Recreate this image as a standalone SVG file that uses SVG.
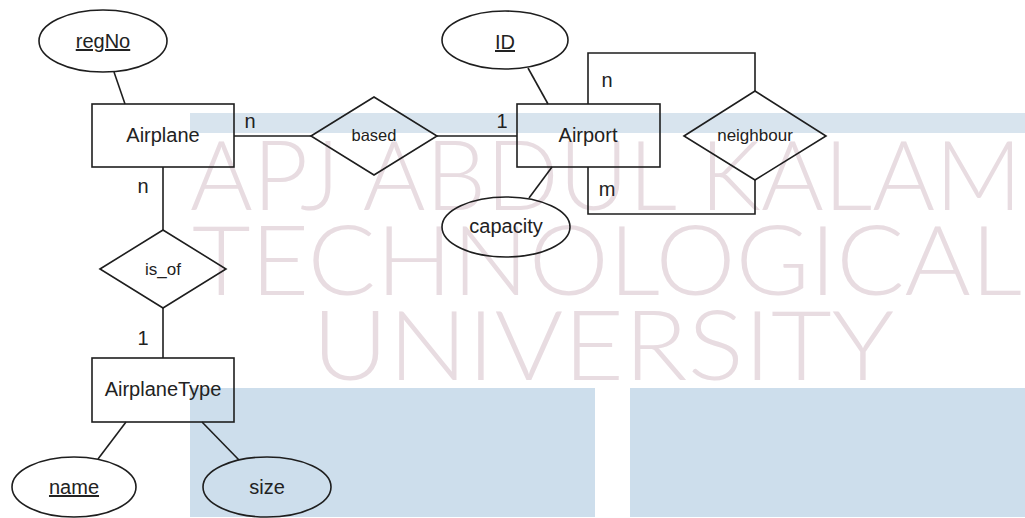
<svg xmlns="http://www.w3.org/2000/svg" width="1025" height="518" viewBox="0 0 1025 518">
<style>
.shape{fill:none;stroke:#1e1e1e;stroke-width:1.6}
.conn line,.conn polyline{fill:none;stroke:#1e1e1e;stroke-width:1.6}
.t{font-family:"Liberation Sans",Arial,sans-serif;font-size:20px;fill:#222;text-anchor:middle}
.r{font-size:16.5px}
.u{text-decoration:underline}
.wm{font-family:Lato,"Open Sans",sans-serif;font-weight:300;font-size:96px;fill:#e8dce1}
</style>
<rect width="1025" height="518" fill="#ffffff"/>
<g id="background">
<rect x="190" y="113" width="835" height="20" fill="#d8e4ee"/>
<rect x="190" y="388" width="405" height="129" fill="#cddeec"/>
<rect x="630" y="388" width="395" height="129" fill="#cddeec"/>
</g>
<g id="watermark">
<text class="wm" x="190" y="210" textLength="832" lengthAdjust="spacingAndGlyphs">APJ ABDUL KALAM</text>
<text class="wm" x="192" y="295" textLength="830" lengthAdjust="spacingAndGlyphs">TECHNOLOGICAL</text>
<text class="wm" x="312" y="380" textLength="582" lengthAdjust="spacingAndGlyphs">UNIVERSITY</text>
</g>
<g id="connectors" class="conn">
<line x1="114" y1="72" x2="125" y2="104"/>
<line x1="234" y1="136" x2="311" y2="136"/>
<line x1="437" y1="136" x2="517" y2="136"/>
<line x1="528" y1="68" x2="548" y2="104"/>
<line x1="552" y1="167" x2="529" y2="198"/>
<polyline points="588,104 588,53 755,53 755,91"/>
<polyline points="755,180 755,214 588,214 588,167"/>
<line x1="163" y1="167" x2="163" y2="230"/>
<line x1="163" y1="308" x2="163" y2="358"/>
<line x1="126" y1="422" x2="98" y2="459"/>
<line x1="202" y1="422" x2="239" y2="460"/>
<text class="t" x="250" y="128">n</text>
<text class="t" x="143" y="193">n</text>
<text class="t" x="502" y="128">1</text>
<text class="t" x="143" y="345">1</text>
<text class="t" x="607" y="87">n</text>
<text class="t" x="607" y="196">m</text>
</g>
<g id="regNo"><ellipse class="shape" cx="103" cy="41" rx="64" ry="31"/><text class="t u" x="103" y="48">regNo</text></g>
<g id="Airplane"><rect class="shape" x="92" y="104" width="142" height="63"/><text class="t" x="163" y="142">Airplane</text></g>
<g id="based"><polygon class="shape" points="311,136 374,97 437,136 374,175"/><text class="t r" x="374" y="141">based</text></g>
<g id="Airport"><rect class="shape" x="517" y="104" width="143" height="63"/><text class="t" x="588" y="142">Airport</text></g>
<g id="ID"><ellipse class="shape" cx="505" cy="40" rx="63" ry="29"/><text class="t u" x="505" y="49">ID</text></g>
<g id="capacity"><ellipse class="shape" cx="506" cy="227" rx="64" ry="30"/><text class="t" x="506" y="233">capacity</text></g>
<g id="neighbour"><polygon class="shape" points="684,136 755,91 826,136 755,180"/><text class="t r" x="755" y="141" style="font-size:17px">neighbour</text></g>
<g id="is_of"><polygon class="shape" points="100,269 163,230 226,269 163,308"/><text class="t r" x="163" y="275" style="font-size:17px">is_of</text></g>
<g id="AirplaneType"><rect class="shape" x="92" y="358" width="142" height="64"/><text class="t" x="163" y="396">AirplaneType</text></g>
<g id="name"><ellipse class="shape" cx="74" cy="487" rx="62" ry="30"/><text class="t u" x="74" y="494">name</text></g>
<g id="size"><ellipse class="shape" cx="267" cy="487" rx="64" ry="30"/><text class="t" x="267" y="494">size</text></g>
</svg>
